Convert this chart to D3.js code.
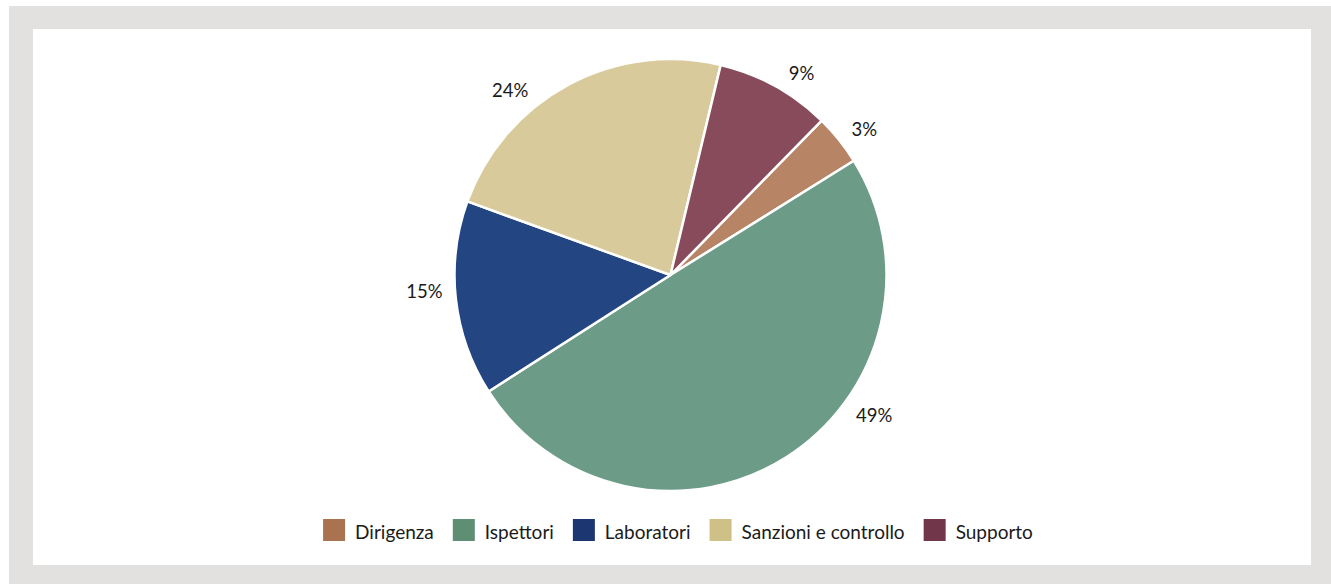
<!DOCTYPE html>
<html><head><meta charset="utf-8">
<script src="https://cdn.jsdelivr.net/npm/d3@7"></script>
<style>html,body{margin:0;padding:0;background:#fff;}svg{display:block;}</style>
</head><body>
<svg id="c" width="1331" height="584"></svg>
<script>
const categories = ["Dirigenza", "Ispettori", "Laboratori", "Sanzioni e controllo", "Supporto"];
const values = [3.8, 49.8, 14.6, 23.2, 8.6];
const labels = ["3%", "49%", "15%", "24%", "9%"];
const sliceColors = ["#B78566", "#6C9C88", "#234683", "#D8CA9A", "#874B5B"];
const legendColors = ["#A9734F", "#5E8E74", "#1B3670", "#CFC186", "#72364A"];
// layout: where along each slice's arc its label sits (0 = slice start, 1 = slice end)
const labelAlong = [0.63, 0.37, 0.55, 0.35, 0.63];

const W = 1331, H = 584;
const svg = d3.select("#c");
const font = "Lato, 'Noto Sans', sans-serif";

svg.append("rect").attr("x", 9).attr("y", 6).attr("width", W - 9).attr("height", H - 6).attr("fill", "#E2E1DF");
svg.append("rect").attr("x", 33).attr("y", 29).attr("width", 1311 - 33).attr("height", 565 - 29).attr("fill", "#fff");

const cx = 670.5, cy = 275, r = 216;
const start = 44.4 * Math.PI / 180;
const pie = d3.pie().sort(null).value(d => d).startAngle(start).endAngle(start + 2 * Math.PI);
const arcs = pie(values);
const arc = d3.arc().innerRadius(0).outerRadius(r);
const g = svg.append("g").attr("transform", `translate(${cx},${cy})`);
g.selectAll("path").data(arcs).join("path")
  .attr("d", arc)
  .attr("fill", (d, i) => sliceColors[i])
  .attr("stroke", "#fff").attr("stroke-width", 2.5).attr("stroke-linejoin", "round");

const gap = 12;
const lbl = g.selectAll("text.lbl").data(arcs).join("text").attr("class", "lbl")
  .attr("text-anchor", "middle").attr("dominant-baseline", "central")
  .attr("font-family", font).attr("font-size", 18.5).attr("fill", "#1a1a1a")
  .text((d, i) => labels[i]);
lbl.each(function (d, i) {
  const a = d.startAngle + (d.endAngle - d.startAngle) * labelAlong[i];
  const s = Math.sin(a), c = Math.cos(a);
  const bb = this.getBBox();
  const ext = Math.abs(s) * bb.width / 2 + Math.abs(c) * 14 / 2;
  const rr = r + gap + ext;
  d3.select(this).attr("x", rr * s).attr("y", -rr * c);
});

// legend
const lg = svg.append("g");
const sq = 22, gapText = 10, gapItem = 19;
const items = lg.selectAll("g").data(categories).join("g");
items.append("rect").attr("width", sq).attr("height", sq).attr("fill", (d, i) => legendColors[i]);
items.append("text").attr("x", sq + gapText).attr("y", sq / 2 + 1)
  .attr("dominant-baseline", "central")
  .attr("font-family", font).attr("font-size", 19).attr("fill", "#1a1a1a")
  .text(d => d);
let x = 0;
const pos = [];
items.each(function () {
  pos.push(x);
  const tw = d3.select(this).select("text").node().getComputedTextLength();
  x += sq + gapText + tw + gapItem;
});
const total = x - gapItem;
const lx0 = 678 - total / 2;
items.attr("transform", (d, i) => `translate(${lx0 + pos[i]},519)`);
</script>
</body></html>
